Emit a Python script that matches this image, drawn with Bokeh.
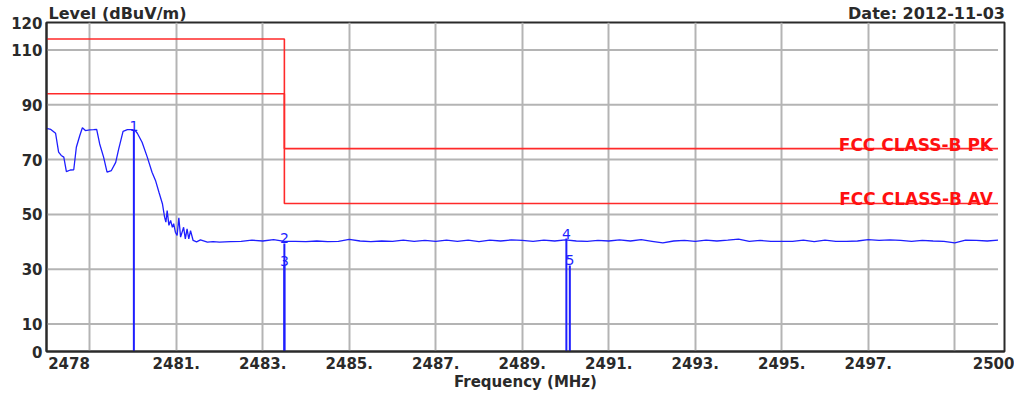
from bokeh.plotting import figure
from bokeh.models import Range1d, FixedTicker, Label, LinearAxis
from bokeh.embed import file_html
from bokeh.resources import INLINE
from bokeh.core.properties import value

# ---------------- data ----------------
trace_freq = [
    2478.00, 2478.10, 2478.21, 2478.28, 2478.34, 2478.40, 2478.46, 2478.55, 2478.63, 2478.69,
    2478.77, 2478.83, 2478.90, 2479.00, 2479.09, 2479.16, 2479.23, 2479.32, 2479.40, 2479.50,
    2479.60, 2479.67, 2479.77, 2479.87, 2479.98, 2480.05, 2480.10, 2480.21, 2480.33, 2480.44,
    2480.52, 2480.60, 2480.68, 2480.73, 2480.76, 2480.79, 2480.83, 2480.87, 2480.91, 2480.94,
    2480.98, 2481.02, 2481.06, 2481.10, 2481.17, 2481.21, 2481.25, 2481.29, 2481.33, 2481.39,
    2481.47, 2481.56, 2481.72, 2481.85,
    2482.00, 2482.25, 2482.50, 2482.75, 2483.00, 2483.25, 2483.50, 2483.75,
    2484.00, 2484.25, 2484.50, 2484.75, 2485.00, 2485.25, 2485.50, 2485.75,
    2486.00, 2486.25, 2486.50, 2486.75, 2487.00, 2487.25, 2487.50, 2487.75,
    2488.00, 2488.25, 2488.50, 2488.75, 2489.00, 2489.25, 2489.50, 2489.75,
    2490.00, 2490.25, 2490.50, 2490.75, 2491.00, 2491.25, 2491.50, 2491.75,
    2492.00, 2492.25, 2492.50, 2492.75, 2493.00, 2493.25, 2493.50, 2493.75,
    2494.00, 2494.25, 2494.50, 2494.75, 2495.00, 2495.25, 2495.50, 2495.75,
    2496.00, 2496.25, 2496.50, 2496.75, 2497.00, 2497.25, 2497.50, 2497.75,
    2498.00, 2498.25, 2498.50, 2498.75, 2499.00, 2499.25, 2499.50, 2499.75,
    2500.00,
]
trace_level = [
    81.4, 81.0, 79.6, 72.7, 71.5, 70.9, 65.6, 66.2, 66.3, 74.5,
    78.8, 81.6, 80.6, 80.8, 80.9, 81.0, 75.7, 70.9, 65.4, 66.0,
    69.0, 73.9, 80.3, 80.9, 80.9, 80.6, 79.6, 76.3, 70.9, 65.4,
    62.4, 58.1, 53.9, 49.0, 47.2, 51.4, 46.0, 47.8, 45.3, 46.6,
    43.5, 42.3, 48.8, 41.7, 45.3, 41.1, 44.7, 41.1, 44.1, 40.5,
    40.0, 40.7, 39.9, 40.1,
    39.9, 40.1, 40.2, 40.6, 40.3, 40.8, 40.2, 40.2,
    40.1, 40.3, 40.1, 40.2, 40.9, 40.3, 40.1, 40.3,
    40.2, 40.6, 40.2, 40.5, 40.2, 40.6, 40.2, 40.6,
    40.1, 40.6, 40.3, 40.7, 40.5, 40.2, 40.6, 40.3,
    40.7, 40.3, 40.2, 40.5, 40.3, 40.7, 40.3, 40.8,
    40.2, 39.6, 40.3, 40.5, 40.2, 40.6, 40.3, 40.6,
    41.0, 40.2, 40.5, 40.2, 40.2, 40.2, 40.6, 40.1,
    40.6, 40.2, 40.2, 40.3, 40.8, 40.5, 40.7, 40.5,
    40.2, 40.5, 40.3, 40.2, 39.6, 40.6, 40.5, 40.3,
    40.6,
]

pk_limit_freq = [2478, 2483.5, 2483.5, 2500]
pk_limit_level = [114, 114, 74, 74]
av_limit_freq = [2478, 2483.5, 2483.5, 2500]
av_limit_level = [94, 94, 54, 54]
pk_limit_name = "FCC CLASS-B PK"
av_limit_name = "FCC CLASS-B AV"

marker_ids = ["1", "2", "3", "4", "5"]
marker_freq = [2480.02, 2483.5, 2483.5, 2490.02, 2490.10]
marker_level = [80.6, 39.4, 31.2, 41.2, 31.4]

freq_start = 2478
freq_stop = 2500
x_tick_values = [2481, 2483, 2485, 2487, 2489, 2491, 2493, 2495, 2497]
x_tick_labels = ["2481.", "2483.", "2485.", "2487.", "2489.", "2491.", "2493.", "2495.", "2497."]
x_start_label = "2478"
x_stop_label = "2500"
x_grid_values = [2479, 2481, 2483, 2485, 2487, 2489, 2491, 2493, 2495, 2497, 2499]
y_tick_values = [0, 10, 30, 50, 70, 90, 110, 120]
y_grid_values = [10, 30, 50, 70, 90, 110]

y_title = "Level (dBuV/m)"
x_title = "Frequency (MHz)"
date_text = "Date: 2012-11-03"

# ---------------- figure ----------------
FONT = "DejaVu Sans"
DARK = "#2a2a2a"
GRID = "#b4b4b4"
BLUE = "#1e1eff"
RED = "#ff2a2a"

W, H = 1014, 394
BL, BR, BT, BB = 46, 10, 22, 43
FW = W - BL - BR
x_end = freq_stop + 0.15
PX_PER_MHZ = FW / (x_end - freq_start)

p = figure(width=W, height=H, output_backend="svg", toolbar_location=None,
           x_range=Range1d(freq_start, x_end), y_range=Range1d(0, 120),
           min_border_left=BL, min_border_right=BR, min_border_top=BT, min_border_bottom=BB)
p.background_fill_color = "white"
p.border_fill_color = "white"
p.outline_line_color = DARK
p.outline_line_width = 2


def style_axis(ax, size="15px"):
    ax.axis_line_color = DARK
    ax.axis_line_width = 2
    ax.major_tick_line_color = None
    ax.minor_tick_line_color = None
    ax.major_tick_out = 0
    ax.major_tick_in = 0
    ax.minor_tick_out = 0
    ax.minor_tick_in = 0
    ax.major_label_text_font = FONT
    ax.major_label_text_font_style = "bold"
    ax.major_label_text_font_size = size
    ax.major_label_text_color = DARK


style_axis(p.xaxis[0])
style_axis(p.yaxis[0])

# bottom axis: inner ticks plus start / stop labels (start label set flush with the frame edge)
start_label_pos = freq_start + 22.5 / PX_PER_MHZ
bottom_ticks = [start_label_pos] + x_tick_values + [freq_stop]
bottom_labels = [x_start_label] + x_tick_labels + [x_stop_label]
p.xaxis.ticker = FixedTicker(ticks=bottom_ticks)
p.xaxis.major_label_overrides = {v: l for v, l in zip(bottom_ticks, bottom_labels)}
p.xaxis.major_label_standoff = 5
p.xaxis.axis_label = x_title
p.xaxis.axis_label_text_font = FONT
p.xaxis.axis_label_text_font_style = "bold"
p.xaxis.axis_label_text_font_size = "15px"
p.xaxis.axis_label_text_color = DARK
p.xaxis.axis_label_standoff = 1

p.yaxis.ticker = FixedTicker(ticks=y_tick_values)
p.yaxis.major_label_standoff = 4

# top texts carried by an unlined axis above the frame
level_pos = freq_start + (72 - 1) / PX_PER_MHZ
date_pos = x_end - (79 - 1) / PX_PER_MHZ
top_axis = LinearAxis(ticker=FixedTicker(ticks=[level_pos, date_pos]),
                      major_label_overrides={level_pos: y_title, date_pos: date_text})
style_axis(top_axis, "16px")
top_axis.axis_line_color = None
top_axis.major_label_standoff = 0
top_axis.axis_label_standoff = 0
p.add_layout(top_axis, "above")

# grid: vertical via Bokeh grid, horizontal drawn up to the data end
p.xgrid.ticker = FixedTicker(ticks=x_grid_values)
p.xgrid.grid_line_color = GRID
p.xgrid.grid_line_width = 2
p.ygrid.grid_line_color = None
p.segment(x0=[freq_start] * len(y_grid_values), x1=[freq_stop] * len(y_grid_values),
          y0=y_grid_values, y1=y_grid_values, line_color=GRID, line_width=2)

# limit lines
p.line(pk_limit_freq, pk_limit_level, line_color=RED, line_width=1.6)
p.line(av_limit_freq, av_limit_level, line_color=RED, line_width=1.6)

# marker stems
p.segment(x0=marker_freq, y0=[0] * len(marker_freq), x1=marker_freq, y1=marker_level,
          line_color=BLUE, line_width=2)

# trace
p.line(trace_freq, trace_level, line_color=BLUE, line_width=1.3)

# marker labels
p.text(x=marker_freq, y=marker_level, text=marker_ids, text_align="center",
       text_baseline="alphabetic", y_offset=-5, text_color=BLUE,
       text_font=value(FONT), text_font_size="14px")

# limit names
for name, fq, lv in ((pk_limit_name, pk_limit_freq, pk_limit_level),
                     (av_limit_name, av_limit_freq, av_limit_level)):
    p.add_layout(Label(x=fq[-1], y=lv[-1], text=name, text_align="right",
                       text_baseline="alphabetic", x_offset=-5, y_offset=4,
                       text_color="#ff1010", text_font=FONT, text_font_style="bold",
                       text_font_size="17px"))

open("out.html", "w").write(file_html(p, INLINE))
